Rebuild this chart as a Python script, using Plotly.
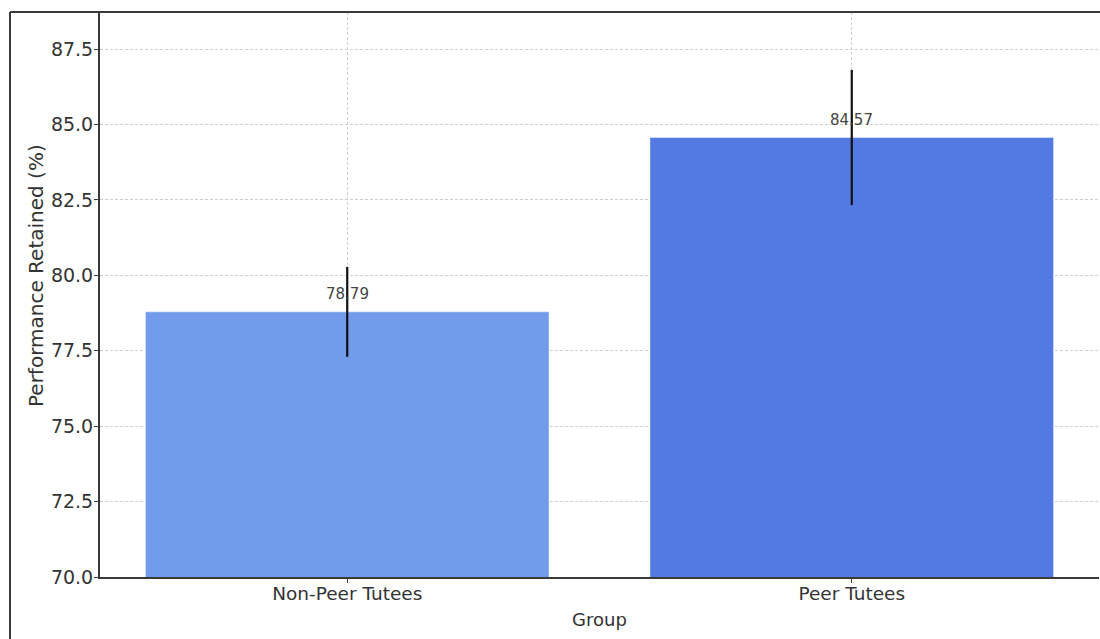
import plotly.graph_objects as go

# Mean performance retained per group, with error bar half-widths
groups = ["Non-Peer Tutees", "Peer Tutees"]
retained = [78.79, 84.57]
errors = [1.49, 2.24]
bar_colors = ["#729CEB", "#5479E1"]
y_ticks = [70.0, 72.5, 75.0, 77.5, 80.0, 82.5, 85.0, 87.5]

FONT = "DejaVu Sans"
W, H = 1100, 639
ML, MR, MT, MB = 100, 1, 12, 62
PW, PH = W - ML - MR, H - MT - MB

fig = go.Figure(
    go.Bar(
        x=groups,
        y=retained,
        width=0.8,
        marker=dict(color=bar_colors, line=dict(color="rgba(255,255,255,0.45)", width=1)),
        error_y=dict(type="data", array=errors, visible=True, color="#111111",
                     thickness=2.2, width=0),
        showlegend=False,
    )
)

# value labels above each bar
for g, v in zip(groups, retained):
    fig.add_annotation(
        x=g, y=v + 0.22, text=f"{v:.2f}", showarrow=False,
        yanchor="bottom", xanchor="center",
        font=dict(family=FONT, size=15, color="#444444"),
    )

# y-axis title placed as a rotated annotation
fig.add_annotation(
    xref="paper", yref="paper",
    x=(36 - ML) / PW, y=(H - MB - 276) / PH,
    text="Performance Retained (%)", textangle=-90, showarrow=False,
    xanchor="center", yanchor="middle",
    font=dict(family=FONT, size=20, color="#333333"),
)

grid = dict(showgrid=True, gridcolor="#cfcfcf", gridwidth=1, griddash="3px,2px")

fig.update_xaxes(
    type="category",
    range=[-0.49, 1.49],
    showline=True, linecolor="#3a3a3a", linewidth=2,
    ticks="outside", ticklen=4, tickcolor="#3a3a3a",
    ticklabelstandoff=-5,
    tickfont=dict(family=FONT, size=18.5, color="#333333"),
    title=dict(text="Group", font=dict(family=FONT, size=18, color="#333333"), standoff=10),
    zeroline=False,
    **grid,
)
fig.update_yaxes(
    range=[70, 88.73],
    tickvals=y_ticks,
    ticktext=[f"{t:.1f}" for t in y_ticks],
    showline=True, linecolor="#3a3a3a", linewidth=2,
    ticks="outside", ticklen=4, tickcolor="#3a3a3a",
    ticklabelstandoff=-3,
    tickfont=dict(family=FONT, size=19, color="#333333"),
    zeroline=False,
    **grid,
)

# outer frame: top edge across the figure and left edge down the side
frame = dict(color="#3a3a3a", width=2)
fig.add_shape(type="line", xref="paper", yref="paper",
              x0=-(ML - 10) / PW, x1=1 + MR / PW, y0=1, y1=1, line=frame)
fig.add_shape(type="line", xref="paper", yref="paper",
              x0=-(ML - 10) / PW, x1=-(ML - 10) / PW, y0=1, y1=-MB / PH, line=frame)

fig.update_layout(
    width=W, height=H,
    margin=dict(l=ML, r=MR, t=MT, b=MB),
    paper_bgcolor="white", plot_bgcolor="white",
    font=dict(family=FONT, color="#333333"),
)

fig.write_html("out.html")
